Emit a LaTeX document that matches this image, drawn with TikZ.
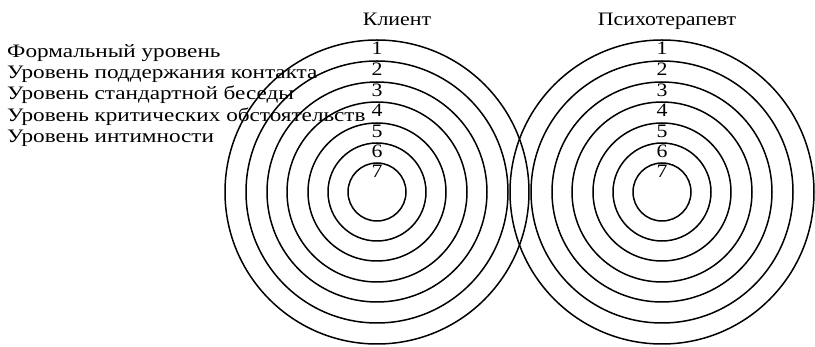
\documentclass[tikz,border=0pt]{standalone}
\usepackage{fontspec}
\setmainfont{Liberation Serif}[FakeStretch=1.15]
\newfontfamily\lvlfont{Liberation Serif}[FakeStretch=1.22]
\usetikzlibrary{positioning}

\begin{document}
\begin{tikzpicture}[x=1pt,y=-1pt,
 ring/.style={draw,line width=1.5pt},
 txt/.style={inner sep=0pt,font=\fontsize{19}{22}\selectfont},
 lvl/.style={txt,anchor=base west,font=\lvlfont\fontsize{19}{22}\selectfont},
 num/.style={txt,anchor=base},
 head/.style={txt,anchor=base}]
\useasboundingbox (0,0) rectangle (815,347);
\coordinate (cl) at (377,192);
\coordinate (cp) at (662,192);
% rings of the two partners
\foreach \r in {152,131,110,90,69,49,29}{
  \draw[ring] (cl) circle[radius=\r pt];
  \draw[ring] (cp) circle[radius=\r pt];
}
% level numbers, just under the top of each ring
\foreach \i/\t in {1/40,2/61,3/82,4/102,5/123,6/143,7/163}{
  \node[num] (l\i) at (377,\t+15) {\i};
  \node[num] (p\i) at (662,\t+15) {\i};
}
\node[head] (klient) at (397,26) {Клиент};
\node[head] (terapevt) at (667,26) {Психотерапевт};
% names of the levels
\node[lvl] (lvl1) at (7,58) {Формальный уровень};
\node[lvl] (lvl2) at (7,79) {Уровень поддержания контакта};
\node[lvl] (lvl3) at (7,100) {Уровень стандартной беседы};
\node[lvl] (lvl4) at (7,122) {Уровень критических обстоятельств};
\node[lvl] (lvl5) at (7,143) {Уровень интимности};
\end{tikzpicture}
\end{document}
